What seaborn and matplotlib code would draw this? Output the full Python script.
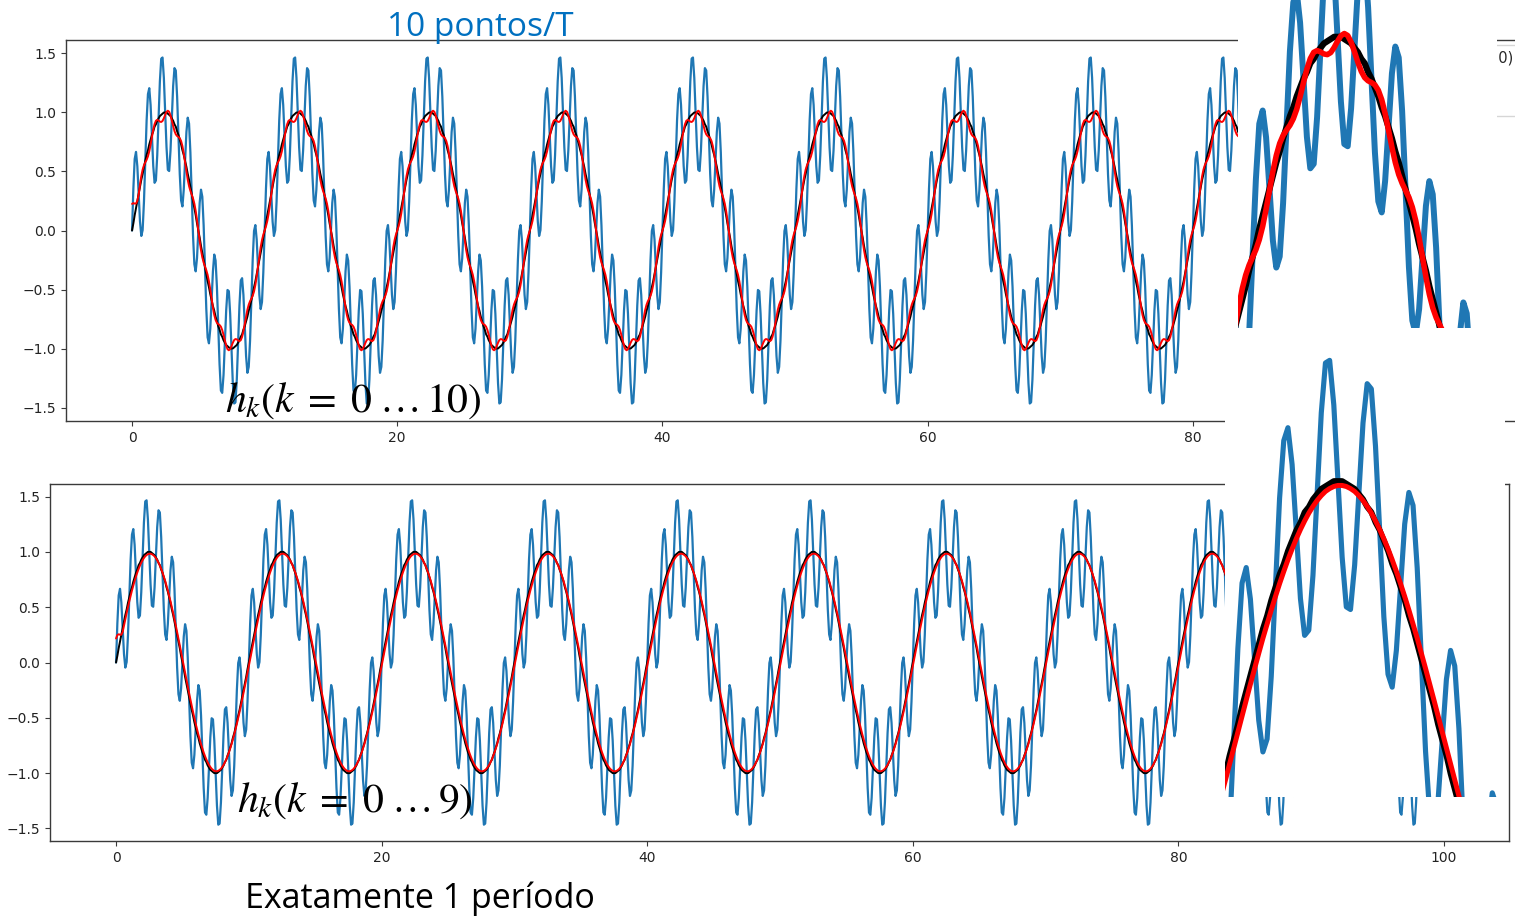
import numpy as np
import matplotlib
matplotlib.use("Agg")
import matplotlib.pyplot as plt
import seaborn as sns
from matplotlib.patches import Rectangle

# ---------------- data ----------------
sample_step = 0.1          # 10 pontos / T  (T = 1)
n_slow_periods = 10        # slow period = 10 -> 100 samples each
# one period of the slow (black) sinusoid, amplitude 1
slow_period_values = [
    0.00, 0.06, 0.13, 0.19, 0.25, 0.31, 0.37, 0.43, 0.48, 0.54,
    0.59, 0.64, 0.68, 0.73, 0.77, 0.81, 0.84, 0.88, 0.90, 0.93,
    0.95, 0.97, 0.98, 0.99, 1.00, 1.00, 1.00, 0.99, 0.98, 0.97,
    0.95, 0.93, 0.90, 0.88, 0.84, 0.81, 0.77, 0.73, 0.68, 0.64,
    0.59, 0.54, 0.48, 0.43, 0.37, 0.31, 0.25, 0.19, 0.13, 0.06,
    0.00, -0.06, -0.13, -0.19, -0.25, -0.31, -0.37, -0.43, -0.48, -0.54,
    -0.59, -0.64, -0.68, -0.73, -0.77, -0.81, -0.84, -0.88, -0.90, -0.93,
    -0.95, -0.97, -0.98, -0.99, -1.00, -1.00, -1.00, -0.99, -0.98, -0.97,
    -0.95, -0.93, -0.90, -0.88, -0.84, -0.81, -0.77, -0.73, -0.68, -0.64,
    -0.59, -0.54, -0.48, -0.43, -0.37, -0.31, -0.25, -0.19, -0.13, -0.06,
]
# one period (10 points) of the fast component, amplitude 0.5
fast_cycle_values = [0.0, 0.294, 0.476, 0.476, 0.294, 0.0, -0.294, -0.476, -0.476, -0.294]
taps_top = 11      # h_k, k = 0 ... 10
taps_bottom = 10   # h_k, k = 0 ... 9
xticks_top = [0, 20, 40, 60, 80, 100]
xticks_bottom = [0, 20, 40, 60, 80, 100]
yticks = [-1.5, -1.0, -0.5, 0.0, 0.5, 1.0, 1.5]
legend_labels = ["sin(2πt/10) + 0.5·sin(2πt/1.0)", "sin(2πt/10)", "filtrado"]
title_text = "10 pontos/T"
label_top = r"$h_k(k\;=\;0\;\ldots\,10)$"
label_bottom = r"$h_k(k\;=\;0\;\ldots\,9)$"
caption_text = "Exatamente 1 período"

# ---------------- derived series ----------------
slow = np.tile(np.array(slow_period_values), n_slow_periods)
fast = np.tile(np.array(fast_cycle_values), len(slow) // len(fast_cycle_values))
signal = slow + fast
t = np.arange(len(signal)) * sample_step
filt_top = np.convolve(signal, np.ones(taps_top) / taps_top, mode="same")
filt_bottom = np.convolve(signal, np.ones(taps_bottom) / taps_bottom, mode="same")

# ---------------- style ----------------
sns.set_style("ticks")
plt.rcParams["font.family"] = ["DejaVu Sans"]
plt.rcParams["mathtext.fontset"] = "stix"
plt.rcParams["axes.edgecolor"] = "#3a3a3a"
plt.rcParams["axes.linewidth"] = 1.0
plt.rcParams["xtick.color"] = "#3a3a3a"
plt.rcParams["ytick.color"] = "#3a3a3a"
plt.rcParams["xtick.labelcolor"] = "#222222"
plt.rcParams["ytick.labelcolor"] = "#222222"

W, H = 1515, 918
fig = plt.figure(figsize=(W / 100, H / 100), dpi=100)
fig.patch.set_facecolor("white")


def px(l, t_, r, b):
    return [l / W, 1 - b / H, (r - l) / W, (b - t_) / H]


BLUE = "#1f77b4"


def draw(ax, filt, lw_blue, lw_black, lw_red, label=False):
    sns.lineplot(x=t, y=signal, ax=ax, color=BLUE, lw=lw_blue, errorbar=None,
                 label=legend_labels[0] if label else None)
    sns.lineplot(x=t, y=slow, ax=ax, color="black", lw=lw_black, errorbar=None,
                 label=legend_labels[1] if label else None)
    sns.lineplot(x=t, y=filt, ax=ax, color="red", lw=lw_red, errorbar=None,
                 label=legend_labels[2] if label else None)


# main top axes
ax1 = fig.add_axes(px(65.8, 40.2, 1523, 420.8))
draw(ax1, filt_top, 1.6, 1.4, 1.4, label=True)
ax1.set_xticks(xticks_top)
ax1.set_yticks(yticks)
ax1.tick_params(labelsize=10)
ax1.set_xlabel("")
ax1.set_ylabel("")
ax1.legend(loc="upper right", fontsize=10.5, borderaxespad=0.3)

# main bottom axes
ax2 = fig.add_axes(px(49.7, 484.1, 1509, 840.9))
draw(ax2, filt_bottom, 1.6, 1.4, 1.4)
ax2.set_xticks(xticks_bottom)
ax2.set_yticks(yticks)
ax2.tick_params(labelsize=10)
ax2.set_xlabel("")
ax2.set_ylabel("")

# white covers (pasted zoom pictures on the slide)
for (l, tp, r, b) in [(1238, 0, 1497, 350), (1225, 350, 1505, 797)]:
    fig.add_artist(Rectangle((l / W, 1 - b / H), (r - l) / W, (b - tp) / H,
                             transform=fig.transFigure, facecolor="white",
                             edgecolor="none", zorder=1))

# upper zoom inset (top filter, one slow period around t = 40)
t0 = 40
ins1 = fig.add_axes(px(1238, 0, 1480, 328))
ins1.set_zorder(2)
draw(ins1, filt_top, 4.3, 4.5, 4.0)
ins1.set_xlim(t0 - 0.426, t0 + 6.69)
ins1.set_ylim(-0.320, 1.167)
ins1.axis("off")

# lower zoom inset (bottom filter)
ins2 = fig.add_axes(px(1225, 350, 1505, 797))
ins2.set_zorder(2)
draw(ins2, filt_bottom, 3.7, 4.2, 3.6)
ins2.set_xlim(t0 - 0.209, t0 + 6.505)
ins2.set_ylim(-0.220, 1.506)
ins2.axis("off")

# slide texts
fig.text(480 / W, 1 - 27 / H, title_text, color="#0070C0", fontsize=24,
         family="Open Sans", ha="center", va="center", zorder=3)
fig.text(353 / W, 1 - 400 / H, label_top, fontsize=30, color="black",
         ha="center", va="center", zorder=3)
fig.text(355 / W, 1 - 800 / H, label_bottom, fontsize=30, color="black",
         ha="center", va="center", zorder=3)
fig.text(420 / W, 1 - 899 / H, caption_text, color="black", fontsize=24.5,
         family="Open Sans", ha="center", va="center", zorder=3)

fig.savefig("out.png", dpi=100, facecolor="white")
